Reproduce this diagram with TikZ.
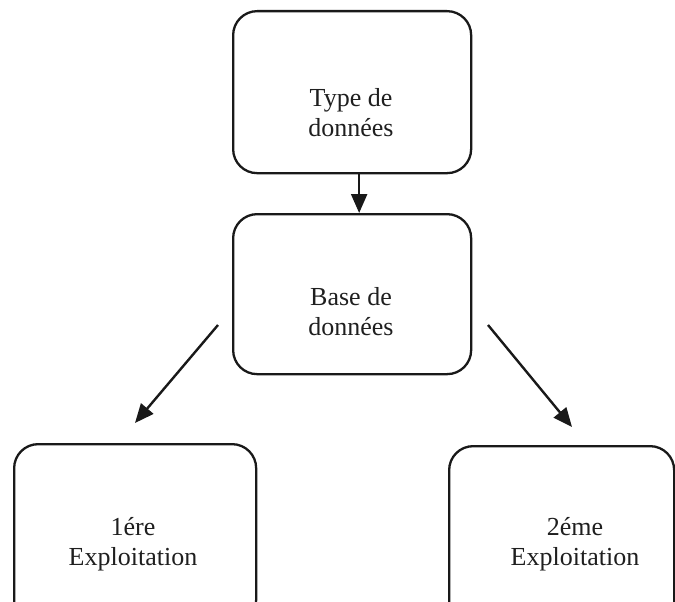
\documentclass[tikz,border=0pt]{standalone}
\usepackage{fontspec}
\setmainfont{Liberation Serif}
\usetikzlibrary{arrows.meta}
\begin{document}
\begin{tikzpicture}[x=1pt,y=-1pt,
  box/.style={draw=black!90, line width=2.3pt, rounded corners=24pt, inner sep=0pt, anchor=north west},
  lbl/.style={align=center, text=black!88, font=\fontsize{26}{30}\selectfont, inner sep=0pt},
  conn/.style={draw=black!90, line width=2.4pt, -{Triangle[length=19pt,width=16pt]}}]
\useasboundingbox (0,0) rectangle (675,602);
\clip (0,0) rectangle (675,602);
\node[box, minimum width=238pt, minimum height=162pt] (type) at (232,10) {};
\node[lbl] (typet) at (351,113) {Type de\\données};
\node[box, minimum width=238pt, minimum height=160pt] (base) at (232,213) {};
\node[lbl] (baset) at (351,312) {Base de\\données};
\node[box, minimum width=242pt, minimum height=180pt] (e1) at (13,443) {};
\node[lbl] (e1t) at (133,544) {1ére\\Exploitation};
\node[box, minimum width=225pt, minimum height=180pt] (e2) at (448,445) {};
\node[lbl] (e2t) at (575,544) {2éme\\Exploitation};
\draw[conn] ([xshift=7pt]type.south) -- ([xshift=7pt]base.north);
\coordinate (l1) at (218,325);
\coordinate (l2) at (135,423);
\coordinate (r1) at (488,325);
\coordinate (r2) at (572,427);
\draw[conn] (l1) -- (l2);
\draw[conn] (r1) -- (r2);
\end{tikzpicture}
\end{document}
